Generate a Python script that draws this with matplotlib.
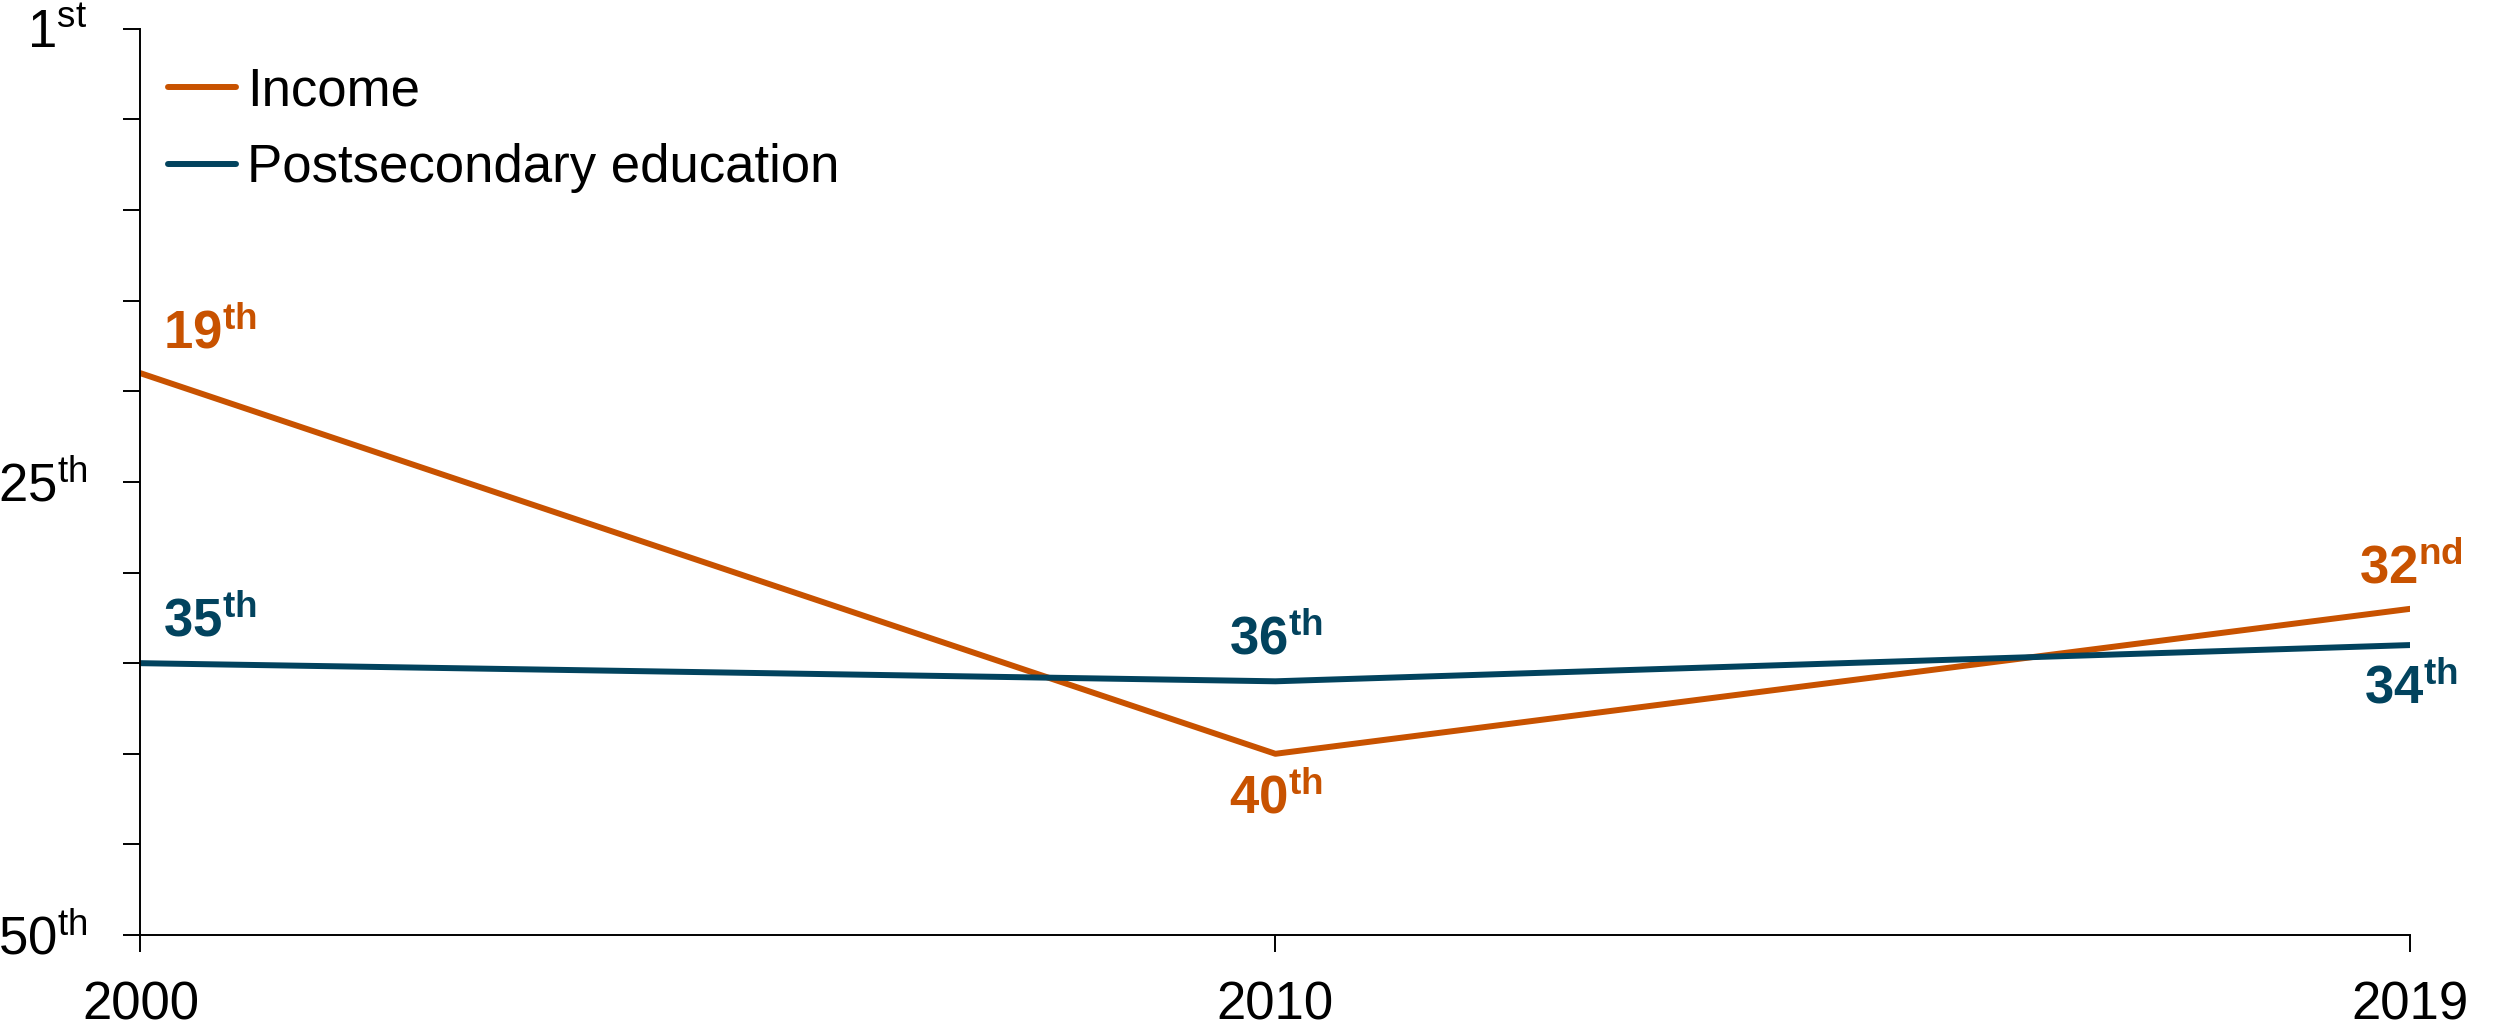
import numpy as np
import matplotlib
matplotlib.use("Agg")
import matplotlib.pyplot as plt

# ranking data (1 = best)
years = ["2000", "2010", "2019"]
income_rank = [19, 40, 32]
education_rank = [35, 36, 34]
income_labels = ["19", "40", "32"]
income_suffix = ["th", "th", "nd"]
education_labels = ["35", "36", "34"]
education_suffix = ["th", "th", "th"]

ORANGE = "#C85200"
NAVY = "#02435E"
FS = 38

plt.rcParams["font.family"] = ["Liberation Sans", "DejaVu Sans"]
plt.rcParams["mathtext.fontset"] = "custom"
plt.rcParams["mathtext.rm"] = "Liberation Sans"
plt.rcParams["mathtext.bf"] = "Liberation Sans:bold"
plt.rcParams["mathtext.it"] = "Liberation Sans:italic"

fig = plt.figure(figsize=(25.03, 10.30), dpi=100)
ax = fig.add_axes([0.0561, 0.0922, 0.963 - 0.0561, 0.972 - 0.0922])

x = np.arange(len(years))
ax.plot(x, income_rank, color=ORANGE, lw=4.3, label="Income", solid_capstyle="round")
ax.plot(x, education_rank, color=NAVY, lw=4.3, label="Postsecondary education",
        solid_capstyle="round")

ax.set_xlim(0, 2)
ax.set_ylim(50, 0)

ax.set_xticks(x)
ax.set_xticklabels(years)
ax.set_yticks(np.arange(0, 51, 5))
ylabels = []
for v in range(0, 51, 5):
    if v == 0:
        ylabels.append(r"1$^{\mathrm{st}}$")
    elif v in (25, 50):
        ylabels.append(str(v) + r"$^{\mathrm{th}}$")
    else:
        ylabels.append("")
ax.set_yticklabels(ylabels)

ax.tick_params(axis="both", labelsize=FS, length=12, width=1.4, color="black")
ax.tick_params(axis="x", pad=21)
ax.tick_params(axis="y", pad=26)

for side in ("top", "right"):
    ax.spines[side].set_visible(False)
for side in ("left", "bottom"):
    ax.spines[side].set_linewidth(1.4)


def label_text(num, suf):
    return r"$\mathbf{" + num + r"^{" + suf + r"}}$"


# value labels: (x offset, baseline offset, alignment)
inc_offsets = [(16.5, 18, "left"), (0, -43, "center"), (0, 18, "center")]
edu_offsets = [(16.5, 19.5, "left"), (0, 19, "center"), (0, -42, "center")]

for i in range(len(years)):
    dx, dy, ha = inc_offsets[i]
    ax.annotate(label_text(income_labels[i], income_suffix[i]), (x[i], income_rank[i]),
                xytext=(dx, dy), textcoords="offset points", ha=ha, va="baseline",
                fontsize=FS, color=ORANGE, annotation_clip=False)
    dx, dy, ha = edu_offsets[i]
    ax.annotate(label_text(education_labels[i], education_suffix[i]), (x[i], education_rank[i]),
                xytext=(dx, dy), textcoords="offset points", ha=ha, va="baseline",
                fontsize=FS, color=NAVY, annotation_clip=False)

ax.legend(loc="upper left", bbox_to_anchor=(0.012, 0.958), frameon=False, fontsize=FS,
          handlelength=1.29, handletextpad=0.21, labelspacing=0.5,
          borderpad=0, borderaxespad=0)

fig.savefig("out.png", dpi=100)
